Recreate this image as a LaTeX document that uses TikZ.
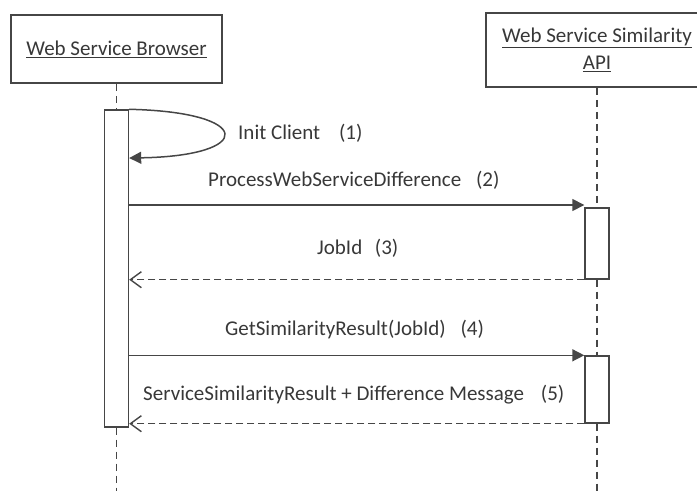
\documentclass[tikz,border=0pt]{standalone}
\usepackage{fontspec}
\setmainfont{Carlito}
\usetikzlibrary{arrows.meta}
\definecolor{ink}{HTML}{383838}
\definecolor{wire}{HTML}{464646}
\tikzset{
  txt/.style={font=\fontsize{21}{25}\selectfont, text=ink},
  actor/.style={draw=wire, line width=1.5pt, fill=white, inner sep=0pt, txt, align=center},
  activation/.style={draw=wire, line width=1.4pt, fill=white, minimum width=24pt, inner sep=0pt},
  lifeline/.style={draw=wire, line width=1.3pt, dash pattern=on 7pt off 5pt},
  call/.style={draw=wire, line width=1.5pt, -{Triangle[length=12pt,width=12pt]}},
  reply/.style={draw=wire, line width=1.4pt, dash pattern=on 7pt off 4pt, -{Straight Barb[length=11pt,width=16pt]}},
  msg/.style={txt, inner sep=0pt, anchor=west}
}
\begin{document}
\begin{tikzpicture}[x=1pt,y=-1pt]
\useasboundingbox (0,0) rectangle (697,491);

% participants
\node[actor, minimum width=211pt, minimum height=68pt] (browser) at (116.5,49) {\underline{Web Service Browser}};
\node[actor, minimum width=222pt, minimum height=74pt] (api) at (597,50) {\underline{Web Service Similarity}\\[2pt]\underline{API}};

% bottom ends of the lifelines
\coordinate (browserEnd) at (116.5,491);
\coordinate (apiEnd) at (597,491);

% activation bars
\node[activation, minimum height=317pt] (actB) at (116.5,268.5) {};
\node[activation, minimum height=71pt] (actA1) at (597,243.5) {};
\node[activation, minimum height=67pt] (actA2) at (597,389.5) {};

% lifelines
\draw[lifeline] (browser.south) -- (actB.north);
\draw[lifeline] (actB.south) -- (browserEnd);
\draw[lifeline] (api.south) -- (actA1.north);
\draw[lifeline] (actA1.south) -- (actA2.north);
\draw[lifeline] (actA2.south) -- (apiEnd);

% (1) self call
\draw[call] (actB.north east) .. controls (255,112) and (255,156) .. (actB.east |- 0,158);
\node[msg] (m1) at (238,133) {Init Client\hspace{0.9em}(1)};

% (2) request
\draw[call] (actB.east |- 0,205) -- (actA1.west |- 0,205);
\node[msg] (m2) at (208,180) {ProcessWebServiceDifference\hspace{0.7em}(2)};

% (3) reply
\draw[reply] (actA1.south west) -- (actB.east |- actA1.south west);
\node[msg] (m3) at (317,248) {JobId\hspace{0.6em}(3)};

% (4) request
\draw[call] (actB.east |- actA2.north west) -- (actA2.north west);
\node[msg] (m4) at (225,330) {GetSimilarityResult(JobId)\hspace{0.7em}(4)};

% (5) reply
\draw[reply] (actA2.south west) -- (actB.east |- actA2.south west);
\node[msg] (m5) at (143,395) {ServiceSimilarityResult + Difference Message\hspace{0.8em}(5)};
\end{tikzpicture}
\end{document}
